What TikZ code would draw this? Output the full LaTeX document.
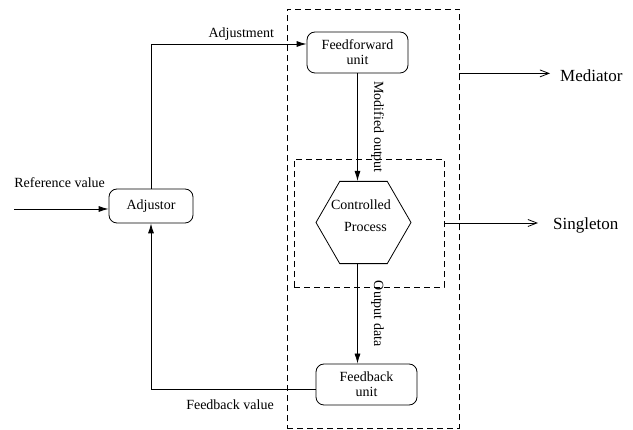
\documentclass[tikz,border=0pt]{standalone}
\usepackage{fontspec}
\setmainfont{Liberation Serif}
\usetikzlibrary{arrows.meta,positioning,shapes.geometric,calc}

\begin{document}
\begin{tikzpicture}[
  x=1pt, y=-1pt,
  every node/.style={font=\fontsize{14pt}{15pt}\selectfont},
  unitbox/.style={
    draw, rounded corners=8pt, align=center, inner sep=2pt, line width=0.8pt
  },
  procbox/.style={
    draw, regular polygon, regular polygon sides=6, minimum size=95pt,
    inner sep=0pt, line width=0.8pt
  },
  region/.style={draw, dash pattern=on 6pt off 4pt, line width=0.8pt, inner sep=0pt},
  arrow/.style={-{Latex[length=10pt,width=6pt]}, line width=0.8pt},
  openarrow/.style={-{Straight Barb[length=9pt,width=7pt]}, line width=0.8pt},
  bigtag/.style={font=\fontsize{17pt}{20pt}\selectfont, anchor=west, inner sep=0pt}
]
\useasboundingbox (0,0) rectangle (633,430);

% component regions
\node[region, minimum width=172pt, minimum height=419.5pt] (outer) at (373,218.75) {};
\node[region, minimum width=150pt, minimum height=128pt] (inner) at (369,223) {};

% units
\node[unitbox, minimum width=84pt, minimum height=34pt] (adj) at (151,206) {Adjustor};
\node[unitbox, minimum width=101pt, minimum height=41pt] (ff) at (357.5,52.5) {Feedforward\\unit};
\node[procbox] (proc) at (363.5,222.5) {};
\node[align=left, font=\fontsize{14pt}{22pt}\selectfont] (proclbl) at (361,216)
  {Controlled\\\hspace*{13pt}Process};
\node[unitbox, minimum width=101pt, minimum height=41pt] (fb) at (366.5,384.5) {Feedback\\unit};

% pattern names
\node[bigtag] (med) at (560,76) {Mediator};
\node[bigtag] (sing) at (553,225) {Singleton};

\coordinate (refin) at (14,209);
\coordinate (medin) at (outer.east |- ff.south);

% signal flow
\draw[arrow] (refin) -- (refin -| adj.west)
  node[pos=0, above right=21pt and 0pt, inner sep=0pt] (reflbl) {Reference value};
\draw[arrow] (adj.north) |- ([yshift=8.5pt]ff.west)
  node[pos=0.79, above=3pt, inner sep=0pt] (adjlbl) {Adjustment};
\draw[arrow] (ff.south) -- (ff.south |- proc.north)
  node[midway, xshift=20pt, rotate=-90, inner sep=0pt] (modlbl) {Modified output};
\draw[arrow] (ff.south |- proc.south) -- (ff.south |- fb.north)
  node[midway, xshift=20pt, rotate=-90, inner sep=0pt] (outlbl) {Output data};
\draw[arrow] ([yshift=-4.5pt]fb.west) -| (adj.south)
  node[pos=0.26, below=10pt, inner sep=0pt] (fblbl) {Feedback value};

\draw[openarrow, shorten >=10pt] (medin) -- (medin -| med.west);
\draw[openarrow, shorten >=15pt] (inner.east) -- (inner.east -| sing.west);

\end{tikzpicture}
\end{document}
